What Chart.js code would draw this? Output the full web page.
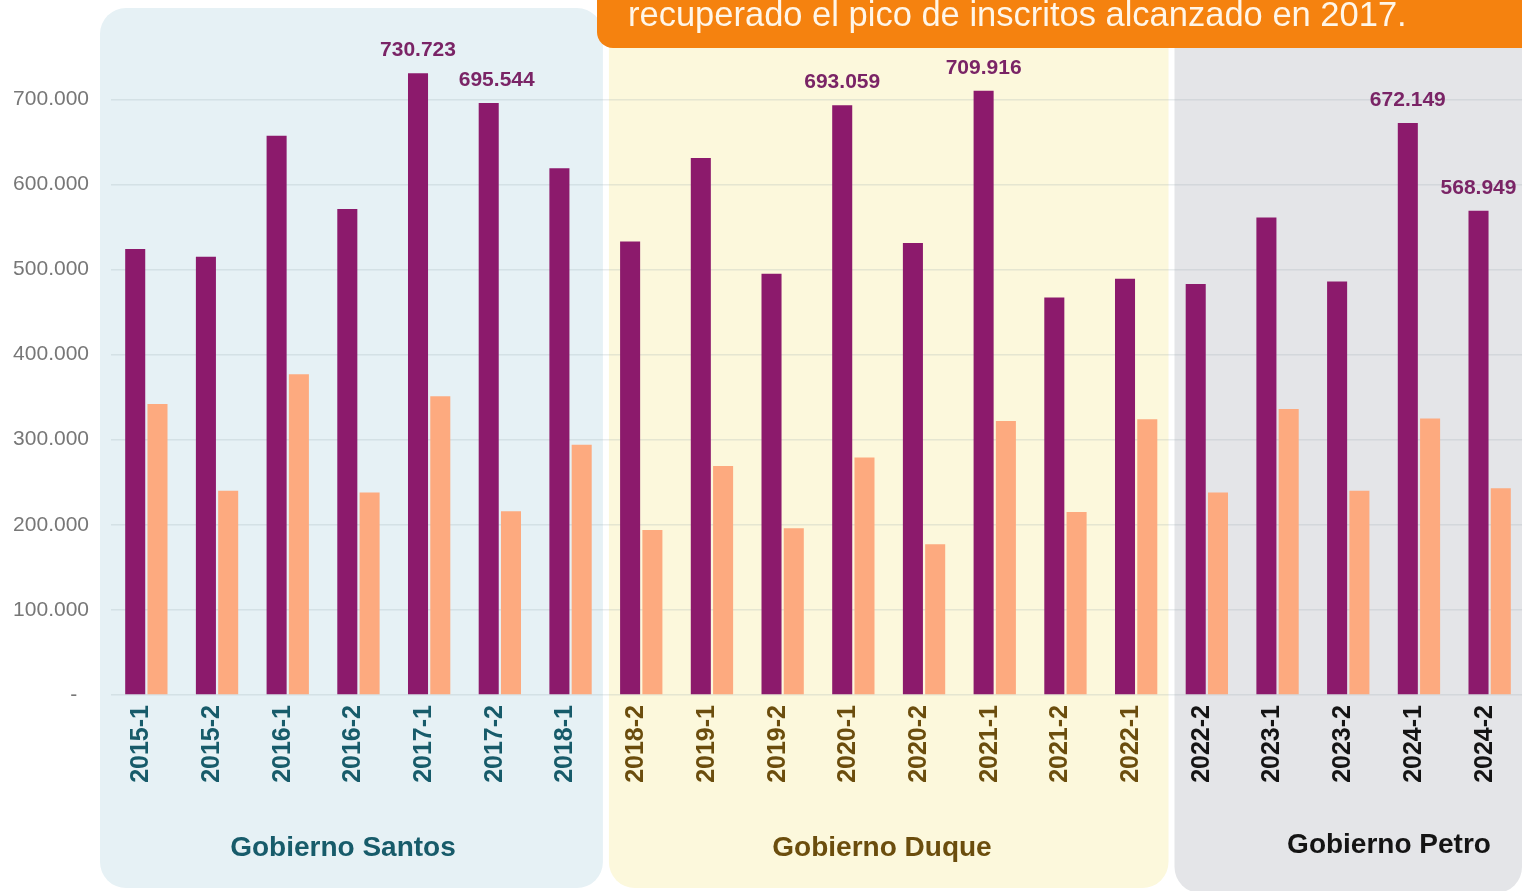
<!DOCTYPE html>
<html>
<head>
<meta charset="utf-8">
<script src="https://cdn.jsdelivr.net/npm/chart.js@4.4.1/dist/chart.umd.min.js"></script>
<style>
  html, body { margin: 0; padding: 0; background: #fff; overflow: hidden; }
  #wrap { position: absolute; left: 0; top: 0; width: 1522px; height: 891px; overflow: hidden; }
  canvas { position: absolute; left: 0; top: 0; }
</style>
</head>
<body>
<div id="wrap"><canvas id="chart" width="1530" height="891"></canvas></div>
<script>
// ---------- DATA ----------
const periods = [
  "2015-1", "2015-2", "2016-1", "2016-2", "2017-1", "2017-2", "2018-1",
  "2018-2", "2019-1", "2019-2", "2020-1", "2020-2", "2021-1", "2021-2", "2022-1",
  "2022-2", "2023-1", "2023-2", "2024-1", "2024-2"
];
const inscritos = [
  524000, 515000, 657000, 571000, 730723, 695544, 619000,
  533000, 631000, 495000, 693059, 531000, 709916, 467000, 489000,
  483000, 561000, 486000, 672149, 568949
];
const admitidos = [
  342000, 240000, 377000, 238000, 351000, 216000, 294000,
  194000, 269000, 196000, 279000, 177000, 322000, 215000, 324000,
  238000, 336000, 240000, 325000, 243000
];
const yTicks = [0, 100000, 200000, 300000, 400000, 500000, 600000, 700000];
// bars that carry a value label
const labeledIdx = [4, 5, 10, 12, 18, 19];

const govNames = ["Gobierno Santos", "Gobierno Duque", "Gobierno Petro"];
const govStart = [0, 7, 15];
const govEnd = [6, 14, 19];
const govFill = ["#e6f1f5", "#fcf8dc", "#e4e5e8"];
const govText = ["#175b6a", "#6b4d0d", "#141414"];

const bannerText = "recuperado el pico de inscritos alcanzado en 2017.";

const FONT = "'Liberation Sans', Arial, Helvetica, sans-serif";

function fmt(v) {
  return String(Math.round(v)).replace(/\B(?=(\d{3})+(?!\d))/g, ".");
}
function govOf(i) {
  for (let g = 0; g < govStart.length; g++) {
    if (i >= govStart[g] && i <= govEnd[g]) return g;
  }
  return 0;
}

// ---------- PLUGINS ----------
const panels = {
  id: "panels",
  beforeDraw(chart) {
    const ctx = chart.ctx;
    const x = chart.scales.x;
    const half = (x.getPixelForValue(1) - x.getPixelForValue(0)) / 2;
    ctx.save();
    govNames.forEach((name, g) => {
      let left = x.getPixelForValue(govStart[g]) - half + 3;
      let right = x.getPixelForValue(govEnd[g]) + half - 3;
      if (g === 0) left -= 14;
      const top = g === 0 ? 8 : -40;
      const bottom = g === 2 ? 893 : 888;
      ctx.fillStyle = govFill[g];
      ctx.beginPath();
      ctx.roundRect(left, top, right - left, bottom - top, 26);
      ctx.fill();
    });
    ctx.restore();
  },
  afterDraw(chart) {
    const ctx = chart.ctx;
    ctx.save();
    // government names
    ctx.font = "bold 28px " + FONT;
    ctx.textAlign = "center";
    ctx.textBaseline = "middle";
    const cx = [343, 882, 1389];
    const cy = [848, 848, 845];
    govNames.forEach((name, g) => {
      ctx.fillStyle = govText[g];
      ctx.fillText(name, cx[g], cy[g]);
    });
    // orange banner
    ctx.fillStyle = "#f5820f";
    ctx.beginPath();
    ctx.roundRect(597, -40, 960, 88, 16);
    ctx.fill();
    ctx.fillStyle = "#fff6e8";
    ctx.font = "34.5px " + FONT;
    ctx.textAlign = "left";
    ctx.textBaseline = "alphabetic";
    ctx.fillText(bannerText, 628, 26);
    ctx.restore();
  }
};

const valueLabels = {
  id: "valueLabels",
  afterDatasetsDraw(chart) {
    const ctx = chart.ctx;
    const meta = chart.getDatasetMeta(0);
    ctx.save();
    ctx.font = "bold 21px " + FONT;
    ctx.fillStyle = "#7a2466";
    ctx.textAlign = "center";
    ctx.textBaseline = "bottom";
    labeledIdx.forEach((i) => {
      const bar = meta.data[i];
      const dx = i === 5 ? 8 : 0;
      ctx.fillText(fmt(inscritos[i]), bar.x + dx, bar.y - 12);
    });
    ctx.restore();
  }
};

// ---------- CHART ----------
new Chart(document.getElementById("chart").getContext("2d"), {
  type: "bar",
  data: {
    labels: periods,
    datasets: [
      {
        label: "Inscritos",
        data: inscritos,
        backgroundColor: "#8c1a6c",
        categoryPercentage: 0.63,
        barPercentage: 0.9,
      },
      {
        label: "Admitidos",
        data: admitidos,
        backgroundColor: "#fdaa7f",
        categoryPercentage: 0.63,
        barPercentage: 0.9,
      },
    ],
  },
  plugins: [panels, valueLabels],
  options: {
    responsive: false,
    animation: false,
    layout: { padding: { top: 10, right: 5, left: 0, bottom: 0 } },
    plugins: {
      legend: { display: false },
      tooltip: { enabled: false },
    },
    scales: {
      x: {
        grid: { display: false, drawTicks: false },
        border: { display: false },
        afterFit(scale) { scale.height = 196; },
        ticks: {
          autoSkip: false,
          minRotation: 90,
          maxRotation: 90,
          padding: 10,
          labelOffset: -5,
          font: { family: FONT, size: 25, weight: "bold" },
          color: (c) => govText[govOf(c.index)],
        },
      },
      y: {
        min: 0,
        max: 776000,
        afterFit(scale) { scale.width = 111; },
        afterBuildTicks(scale) {
          scale.ticks = yTicks.map((v) => ({ value: v }));
        },
        grid: { color: "rgba(150,170,175,0.22)", lineWidth: 1.5, drawTicks: false },
        border: { display: false },
        ticks: {
          padding: 22,
          font: { family: FONT, size: 21 },
          color: "#777777",
          callback: (v) => (v === 0 ? "-  " : fmt(v)),
        },
      },
    },
  },
});
</script>
</body>
</html>
